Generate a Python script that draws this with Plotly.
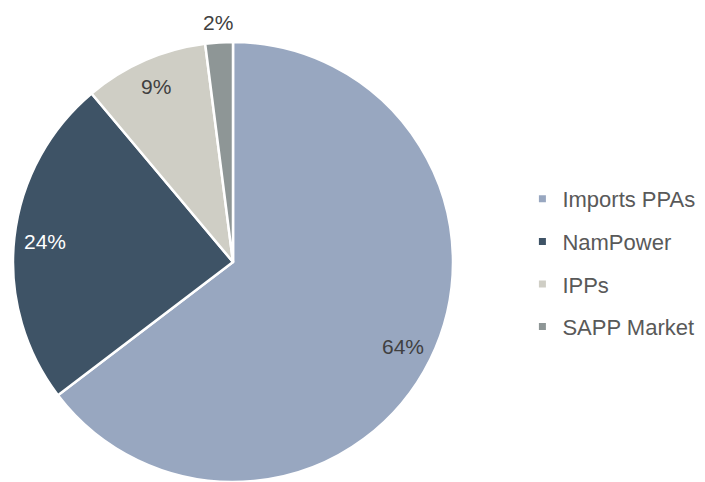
import math
import plotly.graph_objects as go

# Electricity supply sources (share, %)
sources = ["Imports PPAs", "NamPower", "IPPs", "SAPP Market"]
shares = [64, 24, 9, 2]

slice_colors = ["#98A7C0", "#3E5366", "#CFCEC5", "#8E9696"]
label_colors = ["#404040", "#FFFFFF", "#404040", "#404040"]
# radial placement of each percentage label, as a fraction of the pie radius
label_radius = [0.86, 0.86, 0.87, 1.09]

W, H = 705, 482
FONT = "Liberation Sans, Arial, sans-serif"
dom_x = [13 / W, 453 / W]
dom_y = [0, 440 / H]

fig = go.Figure()
fig.add_trace(
    go.Pie(
        labels=sources,
        values=shares,
        sort=False,
        direction="clockwise",
        rotation=0,
        marker=dict(colors=slice_colors, line=dict(color="#FFFFFF", width=2.5)),
        textinfo="none",
        domain=dict(x=dom_x, y=dom_y),
        hoverinfo="label+value",
        showlegend=False,
    )
)

# Percentage labels placed along each slice's mid-angle
R = min((dom_x[1] - dom_x[0]) * W, (dom_y[1] - dom_y[0]) * H) / 2
cx = (dom_x[0] + dom_x[1]) / 2
cy = (dom_y[0] + dom_y[1]) / 2
total = sum(shares)
cum = 0
for val, col, rf in zip(shares, label_colors, label_radius):
    mid = (cum + val / 2) / total * 2 * math.pi
    cum += val
    fig.add_annotation(
        x=cx + rf * R * math.sin(mid) / W,
        y=cy + rf * R * math.cos(mid) / H,
        xref="paper",
        yref="paper",
        text=f"{val}%",
        showarrow=False,
        font=dict(family=FONT, size=21, color=col),
        xanchor="center",
        yanchor="middle",
    )

# Legend entries, one group each so the rows are spaced apart
for name, col in zip(sources, slice_colors):
    fig.add_trace(
        go.Scatter(
            x=[None],
            y=[None],
            mode="markers",
            name=name,
            legendgroup=name,
            marker=dict(symbol="square", size=7, color=col),
            hoverinfo="skip",
        )
    )

fig.update_layout(
    width=W,
    height=H,
    margin=dict(l=0, r=0, t=0, b=0),
    paper_bgcolor="#FFFFFF",
    plot_bgcolor="#FFFFFF",
    xaxis=dict(visible=False),
    yaxis=dict(visible=False),
    showlegend=True,
    legend=dict(
        x=0.741,
        y=1 - 263 / H,
        xanchor="left",
        yanchor="middle",
        font=dict(family=FONT, size=22, color="#595959"),
        itemwidth=30,
        tracegroupgap=11,
    ),
)

fig.write_html("out.html")
